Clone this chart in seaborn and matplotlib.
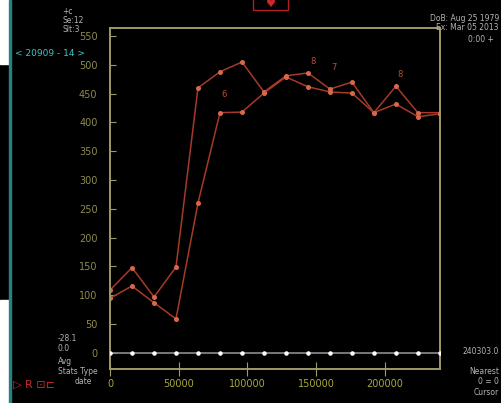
import numpy as np
import pandas as pd
import seaborn as sns
import matplotlib.pyplot as plt
import matplotlib.patches as mpatches

# sample positions along x (16 samples up to 240303)
x_vals = [0, 16020, 32040, 48060, 64080, 80100, 96120, 112140, 128160,
          144180, 160200, 176220, 192240, 208260, 224280, 240303]

series_a = [109, 148, 97, 149, 460, 488, 505, 453, 481, 486, 458, 470, 417, 463, 417, 417]
series_b = [95, 116, 87, 59, 260, 417, 418, 451, 479, 462, 453, 451, 417, 432, 410, 415]
baseline = [0] * 16

y_ticks = list(range(0, 551, 50))
x_ticks = [0, 50000, 100000, 150000, 200000]
x_ticklabels = ['0', '50000', '100000', '150000', '200000']

df = pd.DataFrame({
    'x': x_vals * 2,
    'value': series_a + series_b,
    'series': ['a'] * 16 + ['b'] * 16,
})

sns.set_style("dark")
plt.rcParams['font.family'] = ['DejaVu Sans']

fig = plt.figure(figsize=(5.01, 4.03), dpi=100, facecolor='black')
ax = fig.add_axes([0.2196, 0.0844, 0.878 - 0.2196, 0.9305 - 0.0844])
ax.set_facecolor('black')

# zero baseline with white dots
ax.plot(x_vals, baseline, color='#8c8c8c', lw=1.2, zorder=2)
ax.scatter(x_vals, baseline, color='white', s=5, zorder=3)

sns.lineplot(data=df, x='x', y='value', hue='series',
             palette={'a': '#a63a28', 'b': '#a63a28'},
             marker='o', markersize=2.8, markerfacecolor='#d8684c',
             markeredgecolor='#d8684c', lw=1.1, legend=False, ax=ax)

# small point labels
for tx, ty, t in [(83200, 440, '6'), (148200, 498, '8'), (163500, 488, '7'), (211000, 476, '8')]:
    ax.text(tx, ty, t, color='#b85038', fontsize=6, ha='center', va='bottom')

ax.set_xlim(0, 240303)
ax.set_ylim(-28, 564)
ax.set_yticks(y_ticks)
ax.set_xticks(x_ticks)
ax.set_xticklabels(x_ticklabels)
ax.set_xlabel('')
ax.set_ylabel('')
ax.grid(False)
for s in ax.spines.values():
    s.set_visible(True)
    s.set_color('#a09a68')
    s.set_linewidth(1.4)
ax.tick_params(axis='y', direction='in', length=4, color='#a09a68',
               labelcolor='#8e8a4e', labelsize=7, pad=9, left=True)
ax.tick_params(axis='x', direction='inout', length=10, color='#a09a68',
               labelcolor='#a8a83c', labelsize=7, pad=2, bottom=True)

# surrounding screen text
gray = '#b4b4b4'
fig.text(0.125, 0.965, '+c', color=gray, fontsize=5.5)
fig.text(0.125, 0.943, 'Se:12', color=gray, fontsize=5.5)
fig.text(0.125, 0.921, 'Slt:3', color=gray, fontsize=5.5)
fig.text(0.03, 0.862, '< 20909 - 14 >', color='#3cc8c8', fontsize=6.5)
fig.text(0.996, 0.948, 'DoB: Aug 25 1979', color=gray, fontsize=5.5, ha='right')
fig.text(0.996, 0.926, 'Ex: Mar 05 2013', color=gray, fontsize=5.5, ha='right')
fig.text(0.985, 0.896, '0:00 +', color=gray, fontsize=5.5, ha='right')
fig.text(0.115, 0.153, '-28.1', color=gray, fontsize=5.5)
fig.text(0.115, 0.128, '0.0', color=gray, fontsize=5.5)
fig.text(0.115, 0.098, 'Avg', color=gray, fontsize=5.5)
fig.text(0.115, 0.073, 'Stats Type', color=gray, fontsize=5.5)
fig.text(0.148, 0.047, 'date', color=gray, fontsize=5.5)
fig.text(0.025, 0.038, '▷ R ⊡⊏', color='#d02828', fontsize=8)
fig.text(0.996, 0.122, '240303.0', color=gray, fontsize=5.5, ha='right')
fig.text(0.996, 0.072, 'Nearest', color=gray, fontsize=5.5, ha='right')
fig.text(0.996, 0.047, '0 = 0', color=gray, fontsize=5.5, ha='right')
fig.text(0.996, 0.02, 'Cursor', color=gray, fontsize=5.5, ha='right')

# red marker box at top centre and left screen edge
fig.patches.append(mpatches.Rectangle((0.505, 0.975), 0.07, 0.03, transform=fig.transFigure,
                                      fill=False, ec='#b02020', lw=1))
fig.text(0.54, 0.99, '♥', color='#d02828', fontsize=8, ha='center', va='center')
fig.patches.append(mpatches.Rectangle((0, 0.84), 0.018, 0.16, transform=fig.transFigure,
                                      color='white'))
fig.patches.append(mpatches.Rectangle((0, 0.0), 0.018, 0.255, transform=fig.transFigure,
                                      color='white'))
fig.patches.append(mpatches.Rectangle((0.018, 0.0), 0.004, 1.0, transform=fig.transFigure,
                                      color='#2a8080'))

fig.savefig('out.png', dpi=100, facecolor='black')
